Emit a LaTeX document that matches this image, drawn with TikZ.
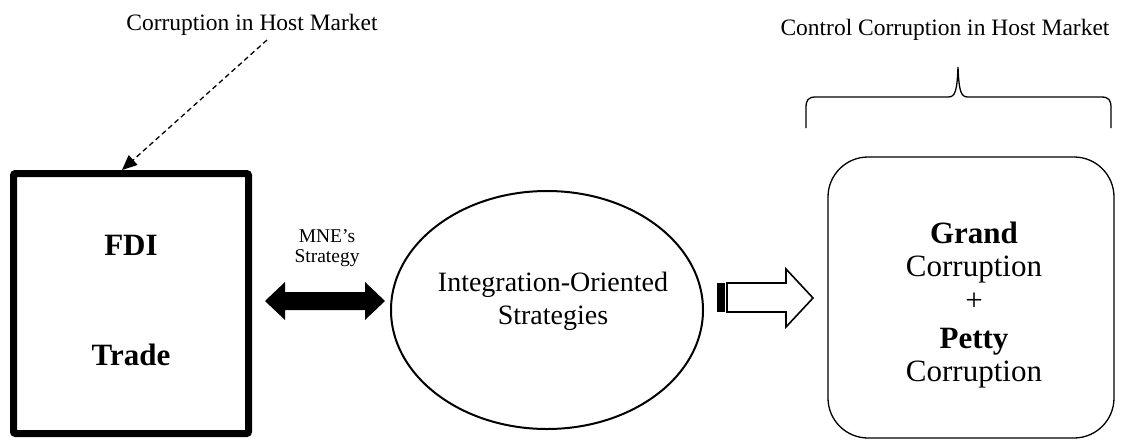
\documentclass[tikz,border=0pt]{standalone}
\usepackage{fontspec}
\setmainfont{Liberation Serif}
\usetikzlibrary{arrows.meta,shapes.geometric}
\begin{document}
\begin{tikzpicture}[x=1pt,y=-1pt,
  lbl/.style={font=\fontsize{23.5}{28}\selectfont, inner sep=0pt},
  big/.style={font=\fontsize{31}{36}\selectfont, inner sep=0pt, align=center},
  mid/.style={font=\fontsize{28}{33}\selectfont, inner sep=0pt, align=center},
  small/.style={font=\fontsize{19.5}{23}\selectfont, inner sep=0pt, align=center}]
\useasboundingbox (0,0) rectangle (1122,440);
% top labels
\node[lbl] (lab1) at (252,25) {Corruption in Host Market};
\node[lbl] (lab2) at (945,30) {Control Corruption in Host Market};
% left box
\node[draw, line width=7pt, rounded corners=2pt, minimum width=235pt, minimum height=260pt, inner sep=0pt] (fdi) at (131,303.5) {};
\node[big, font=\fontsize{31}{36}\selectfont\bfseries] (fditxt) at (131,245) {FDI};
\node[big, font=\fontsize{31}{36}\selectfont\bfseries] (tradetxt) at (131,355) {Trade};
% dashed arrow
\coordinate (ds) at (267,40);
\coordinate (de) at (122,170);
\draw[dashed, dash pattern=on 5pt off 3.5pt, line width=1.3pt, -{Triangle[length=15pt,width=13pt]}] (ds) -- (de);
% MNE's strategy
\node[small] (mne) at (327,248) {MNE’s\\[-3pt]Strategy};
% double arrow
\fill (265,301) -- (285,282) -- (285,292) -- (365,292) -- (365,282) -- (385,301) -- (365,320) -- (365,310) -- (285,310) -- (285,320) -- cycle;
% ellipse
\node[draw, ellipse, line width=2pt, minimum width=312pt, minimum height=238pt, inner sep=0pt] (ell) at (547,310) {};
\node[mid] (elltxt) at (553,301) {Integration-Oriented\\Strategies};
% hollow arrow
\fill (717,283) rectangle (725,312);
\draw[line width=1.6pt, line join=miter] (727,283) -- (786,283) -- (786,269) -- (813,298) -- (786,327) -- (786,312) -- (727,312) -- cycle;
% right rounded box
\node[draw, line width=1.3pt, rounded corners=40pt, minimum width=286pt, minimum height=281pt, inner sep=0pt] (rbox) at (971,297.5) {};
\node[big] (g1) at (974,233) {\textbf{Grand}};
\node[big] (g2) at (974,270) {Corruption};
\node[big] (g3) at (974,302) {+};
\node[big] (g4) at (974,342) {\textbf{Petty}};
\node[big] (g5) at (974,375) {Corruption};
% brace
\draw[line width=1.3pt] (806,128) -- (806,108) .. controls (806,100) and (808,97) .. (816,97) -- (948,97) .. controls (955,97) and (957,92) .. (958,67) .. controls (959,92) and (961,97) .. (968,97) -- (1101,97) .. controls (1109,97) and (1111,100) .. (1111,108) -- (1111,128);
\end{tikzpicture}
\end{document}
